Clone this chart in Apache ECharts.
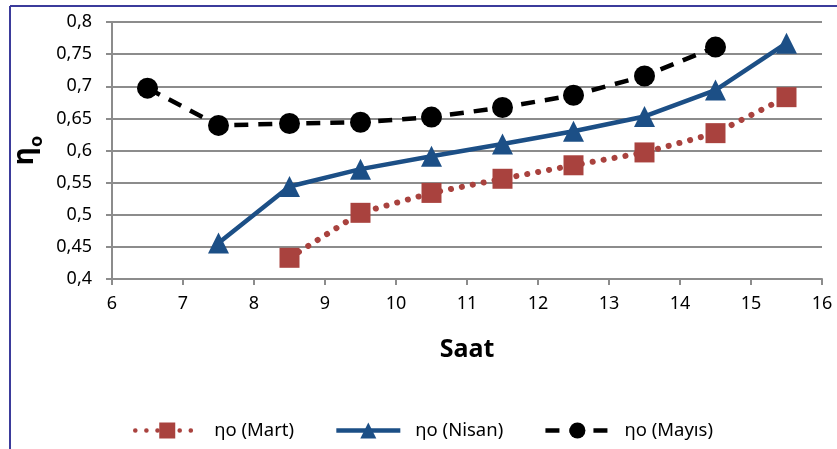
<!DOCTYPE html>
<html>
<head>
<meta charset="utf-8">
<script src="https://cdn.jsdelivr.net/npm/echarts@6/dist/echarts.min.js"></script>
<style>html,body{margin:0;padding:0;background:#fff}#c{width:837px;height:449px}</style>
</head>
<body>
<div id="c"></div>
<script>
var xMart = [8.5, 9.5, 10.5, 11.5, 12.5, 13.5, 14.5, 15.5];
var yMart = [0.433, 0.503, 0.534, 0.556, 0.577, 0.597, 0.627, 0.683];
var xNisan = [7.5, 8.5, 9.5, 10.5, 11.5, 12.5, 13.5, 14.5, 15.5];
var yNisan = [0.456, 0.544, 0.571, 0.591, 0.610, 0.630, 0.653, 0.694, 0.767];
var xMayis = [6.5, 7.5, 8.5, 9.5, 10.5, 11.5, 12.5, 13.5, 14.5];
var yMayis = [0.697, 0.639, 0.642, 0.644, 0.652, 0.667, 0.686, 0.716, 0.761];
var seriesNames = ['ηo (Mart)', 'ηo (Nisan)', 'ηo (Mayıs)'];

function zip(xs, ys) { return xs.map(function (x, i) { return [x, ys[i]]; }); }
var FONT = 'Noto Sans';
var chart = echarts.init(document.getElementById('c'));
chart.setOption({
  animation: false,
  backgroundColor: '#fff',
  textStyle: { fontFamily: FONT },
  grid: { left: 112, right: 15, top: 22, bottom: 170 },
  xAxis: {
    type: 'value', min: 6, max: 16, interval: 1,
    name: 'Saat', nameLocation: 'middle', nameGap: 58,
    nameTextStyle: { fontSize: 25, fontWeight: 'bold', color: '#000', fontFamily: FONT },
    axisLine: { show: true, lineStyle: { color: '#8c8c8c', width: 2 } },
    axisTick: { show: true, length: 6, inside: false, lineStyle: { color: '#8c8c8c', width: 2 } },
    axisLabel: { fontSize: 18, color: '#000', margin: 16 },
    splitLine: { show: false }
  },
  yAxis: {
    type: 'value', min: 0.4, max: 0.8, interval: 0.05,
    name: '{a|η}{b|o}', nameLocation: 'middle', nameGap: 68, nameRotate: 90,
    nameTextStyle: {
      rich: {
        a: { fontSize: 28, fontWeight: 'bold', color: '#000', fontFamily: FONT, verticalAlign: 'bottom' },
        b: { fontSize: 18, fontWeight: 'bold', color: '#000', fontFamily: FONT, verticalAlign: 'bottom', padding: [0, 0, -6, 0] }
      }
    },
    axisLine: { show: true, lineStyle: { color: '#8c8c8c', width: 2 } },
    axisTick: { show: true, length: 6, lineStyle: { color: '#8c8c8c', width: 2 } },
    axisLabel: {
      fontSize: 18, color: '#000', margin: 20,
      formatter: function (v) { return String(Math.round(v * 100) / 100).replace('.', ','); }
    },
    splitLine: { show: true, lineStyle: { color: '#8c8c8c', width: 2 } }
  },
  legend: {
    top: 416, left: 128,
    itemWidth: 64, itemHeight: 20, itemGap: 40,
    textStyle: { fontSize: 18.5, color: '#000', fontFamily: FONT, padding: [0, 0, 0, 10] },
    lineStyle: { width: 4.5 },
    data: seriesNames
  },
  graphic: [
    { type: 'line', shape: { x1: 10, y1: 6, x2: 837, y2: 6 }, style: { stroke: '#3b3b9b', lineWidth: 2 } },
    { type: 'line', shape: { x1: 10, y1: 6, x2: 10, y2: 449 }, style: { stroke: '#3b3b9b', lineWidth: 2 } }
  ],
  series: [
    {
      name: seriesNames[0], type: 'line', data: zip(xMart, yMart),
      symbol: 'rect', symbolSize: 20,
      itemStyle: { color: '#a9423e' },
      lineStyle: { color: '#a9423e', width: 6, type: [0.1, 11], cap: 'round' },
      z: 2
    },
    {
      name: seriesNames[1], type: 'line', data: zip(xNisan, yNisan),
      symbol: 'triangle', symbolSize: 21,
      itemStyle: { color: '#1c4f86' },
      lineStyle: { color: '#1c4f86', width: 4.5 },
      z: 3
    },
    {
      name: seriesNames[2], type: 'line', data: zip(xMayis, yMayis),
      symbol: 'circle', symbolSize: 21,
      itemStyle: { color: '#000' },
      lineStyle: { color: '#000', width: 4.5, type: [14, 10] },
      z: 4
    }
  ]
});
</script>
</body>
</html>
